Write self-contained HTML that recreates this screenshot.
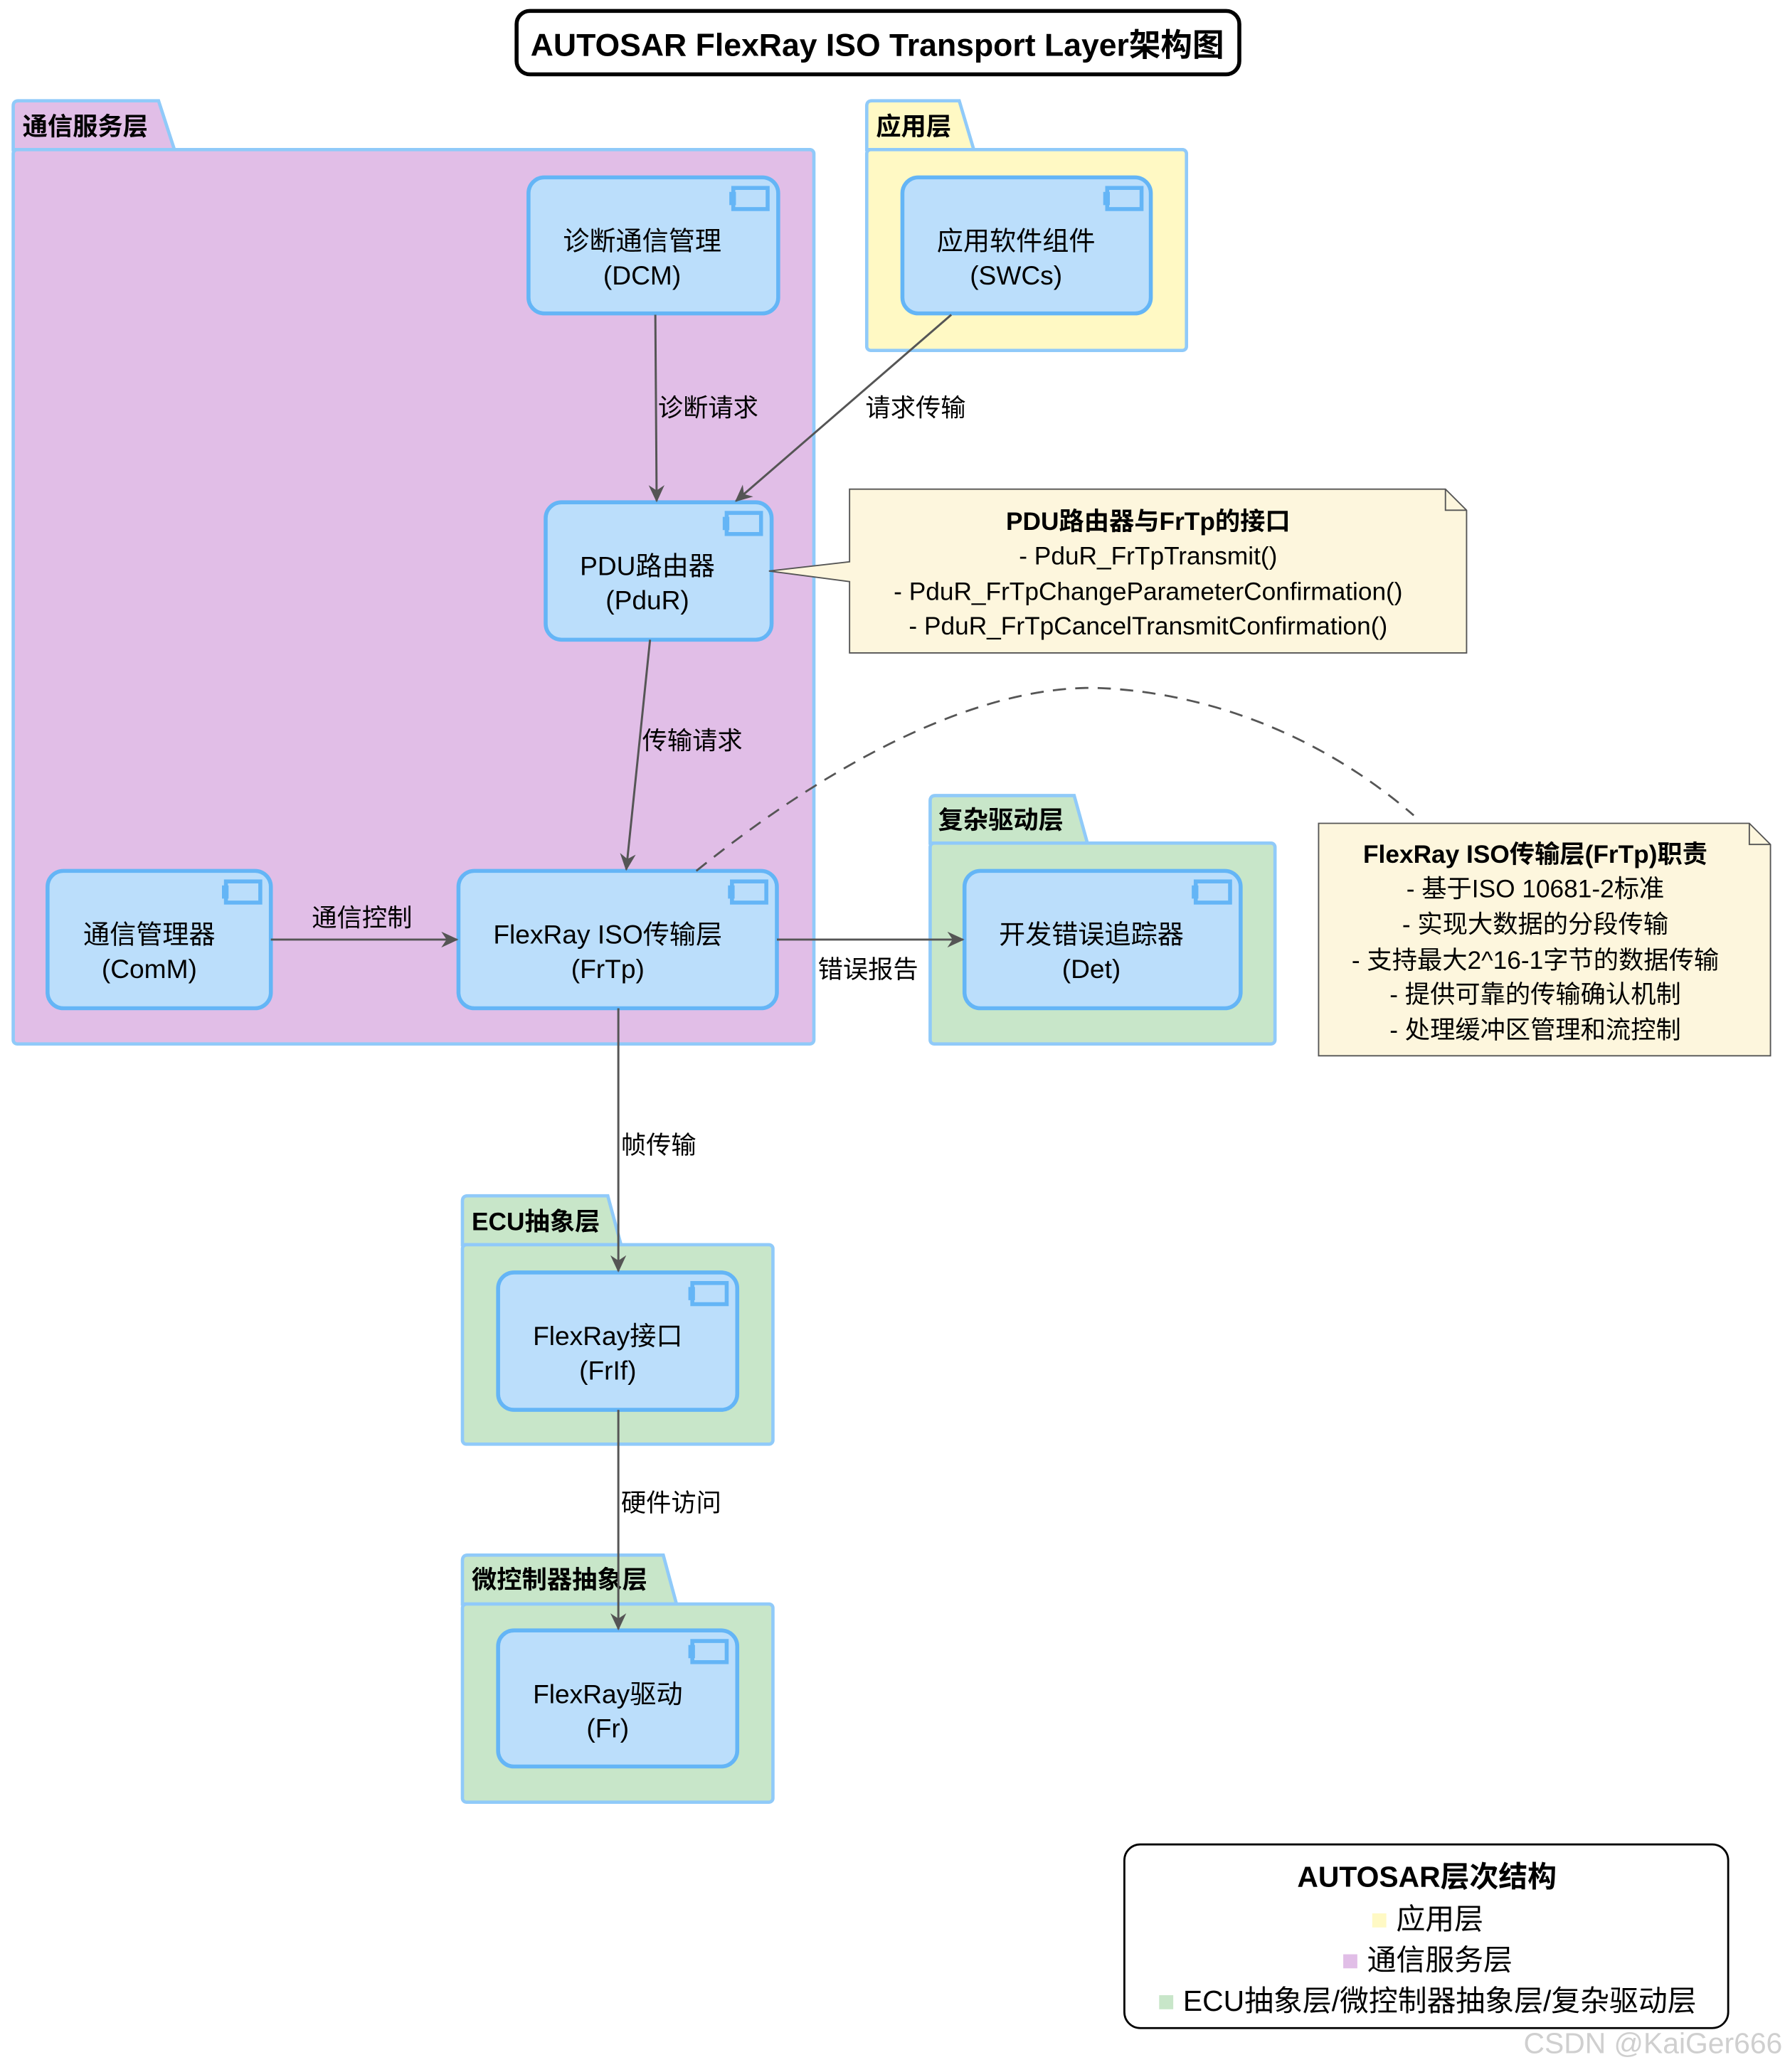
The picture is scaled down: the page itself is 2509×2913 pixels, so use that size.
<!DOCTYPE html>
<html><head><meta charset="utf-8"><style>
html,body{margin:0;padding:0;background:#fff;}
svg{display:block;}
text{font-family:"Liberation Sans","Noto Sans CJK SC",sans-serif;fill:#000;}
.b{font-weight:bold;}
</style></head><body>
<svg width="2509" height="2913" viewBox="0 0 1351 1568" xmlns="http://www.w3.org/2000/svg">
<defs>
<marker id="ar" markerWidth="14" markerHeight="12" refX="12" refY="6" orient="auto" markerUnits="userSpaceOnUse">
<path d="M0,0 L13,6 L0,12 L4,6 Z" fill="#555"/>
</marker>
<g id="ic"><rect x="0" y="0" width="26" height="16" fill="#BBDEFB" stroke="#64B5F6" stroke-width="3"/><rect x="-3" y="3" width="5" height="10" fill="#64B5F6"/></g>
</defs>
<!-- title -->
<rect x="391" y="8" width="547" height="48" rx="10" fill="#fff" stroke="#000" stroke-width="3"/>
<text x="664" y="42" font-size="24" text-anchor="middle" class="b">AUTOSAR FlexRay ISO Transport Layer架构图</text>

<!-- packages -->
<g stroke="#90CAF9" stroke-width="2.5">
<path d="M10,113 L10,80 Q10,76 14,76 L120,76 L132,113 Z" fill="#E1BEE7"/>
<rect x="10" y="113" width="606" height="677" rx="3" fill="#E1BEE7"/>
<path d="M656,113 L656,80 Q656,76 660,76 L726,76 L737,113 Z" fill="#FFF9C4"/>
<rect x="656" y="113" width="242" height="152" rx="3" fill="#FFF9C4"/>
<path d="M704,638 L704,606 Q704,602 708,602 L813,602 L823,638 Z" fill="#C8E6C9"/>
<rect x="704" y="638" width="261" height="152" rx="3" fill="#C8E6C9"/>
<path d="M350,942 L350,909 Q350,905 354,905 L460,905 L470,942 Z" fill="#C8E6C9"/>
<rect x="350" y="942" width="235" height="151" rx="3" fill="#C8E6C9"/>
<path d="M350,1214 L350,1181 Q350,1177 354,1177 L502,1177 L512,1214 Z" fill="#C8E6C9"/>
<rect x="350" y="1214" width="235" height="150" rx="3" fill="#C8E6C9"/>
</g>
<g font-size="19" class="b">
<text x="17" y="102" class="b">通信服务层</text>
<text x="663" y="102" class="b">应用层</text>
<text x="710" y="627" class="b">复杂驱动层</text>
<text x="357" y="931" class="b">ECU抽象层</text>
<text x="357" y="1202" class="b">微控制器抽象层</text>
</g>

<!-- components -->
<g fill="#BBDEFB" stroke="#64B5F6" stroke-width="3">
<rect x="400" y="134" width="189" height="103" rx="12"/>
<rect x="683" y="134" width="188" height="103" rx="12"/>
<rect x="413" y="380" width="171" height="104" rx="12"/>
<rect x="36" y="659" width="169" height="104" rx="12"/>
<rect x="347" y="659" width="241" height="104" rx="12"/>
<rect x="730" y="659" width="209" height="104" rx="12"/>
<rect x="377" y="963" width="181" height="104" rx="12"/>
<rect x="377" y="1234" width="181" height="103" rx="12"/>
</g>
<use href="#ic" x="555" y="142"/>
<use href="#ic" x="838" y="142"/>
<use href="#ic" x="550" y="388"/>
<use href="#ic" x="171" y="667"/>
<use href="#ic" x="554" y="667"/>
<use href="#ic" x="905" y="667"/>
<use href="#ic" x="524" y="971"/>
<use href="#ic" x="524" y="1242"/>
<g font-size="20" text-anchor="middle">
<text x="486" y="189">诊断通信管理</text><text x="486" y="215">(DCM)</text>
<text x="769" y="189">应用软件组件</text><text x="769" y="215">(SWCs)</text>
<text x="490" y="435">PDU路由器</text><text x="490" y="461">(PduR)</text>
<text x="113" y="714">通信管理器</text><text x="113" y="740">(ComM)</text>
<text x="460" y="714">FlexRay ISO传输层</text><text x="460" y="740">(FrTp)</text>
<text x="826" y="714">开发错误追踪器</text><text x="826" y="740">(Det)</text>
<text x="460" y="1018">FlexRay接口</text><text x="460" y="1044">(FrIf)</text>
<text x="460" y="1289">FlexRay驱动</text><text x="460" y="1315">(Fr)</text>
</g>

<!-- arrows -->
<g stroke="#555" stroke-width="1.6" fill="none" marker-end="url(#ar)">
<line x1="496" y1="238" x2="497" y2="379"/>
<line x1="720" y1="238" x2="557" y2="379"/>
<line x1="492" y1="484" x2="474" y2="658"/>
<line x1="205" y1="711" x2="346" y2="711"/>
<line x1="588" y1="711" x2="729" y2="711"/>
<line x1="468" y1="763" x2="468" y2="962"/>
<line x1="468" y1="1067" x2="468" y2="1233"/>
</g>
<g font-size="19">
<text x="498" y="315">诊断请求</text>
<text x="655" y="315">请求传输</text>
<text x="486" y="567">传输请求</text>
<text x="236" y="701">通信控制</text>
<text x="619" y="740">错误报告</text>
<text x="470" y="873">帧传输</text>
<text x="470" y="1144">硬件访问</text>
</g>

<!-- notes -->
<path d="M643,370 L1094,370 L1110,386 L1110,494 L643,494 L643,440 L582,432 L643,425 Z" fill="#FDF6DD" stroke="#555" stroke-width="1"/>
<path d="M1094,370 L1094,386 L1110,386" fill="none" stroke="#555" stroke-width="1"/>
<g font-size="19" text-anchor="middle">
<text x="869" y="401" class="b">PDU路由器与FrTp的接口</text>
<text x="869" y="427">- PduR_FrTpTransmit()</text>
<text x="869" y="454">- PduR_FrTpChangeParameterConfirmation()</text>
<text x="869" y="480">- PduR_FrTpCancelTransmitConfirmation()</text>
</g>
<path d="M998,623 L1324,623 L1340,639 L1340,799 L998,799 Z" fill="#FDF6DD" stroke="#555" stroke-width="1"/>
<path d="M1324,623 L1324,639 L1340,639" fill="none" stroke="#555" stroke-width="1"/>
<g font-size="19" text-anchor="middle">
<text x="1162" y="653" class="b">FlexRay ISO传输层(FrTp)职责</text>
<text x="1162" y="679">- 基于ISO 10681-2标准</text>
<text x="1162" y="706">- 实现大数据的分段传输</text>
<text x="1162" y="733">- 支持最大2^16-1字节的数据传输</text>
<text x="1162" y="759">- 提供可靠的传输确认机制</text>
<text x="1162" y="786">- 处理缓冲区管理和流控制</text>
</g>
<path d="M527,659 C650,560 760,515 840,521 C930,527 1010,565 1070,617" fill="none" stroke="#555" stroke-width="1.5" stroke-dasharray="10,7"/>

<!-- legend -->
<rect x="851" y="1396" width="457" height="139" rx="12" fill="#fff" stroke="#000" stroke-width="1.5"/>
<g font-size="22" text-anchor="middle">
<text x="1080" y="1428" class="b">AUTOSAR层次结构</text>
<text x="1080" y="1460"><tspan fill="#FFF9C4">■</tspan> 应用层</text>
<text x="1080" y="1491"><tspan fill="#E1BEE7">■</tspan> 通信服务层</text>
<text x="1080" y="1522"><tspan fill="#C8E6C9">■</tspan> ECU抽象层/微控制器抽象层/复杂驱动层</text>
</g>
<text x="1349" y="1554" font-size="22" text-anchor="end" style="fill:#cfcfcf">CSDN @KaiGer666</text>
</svg>
</body></html>
